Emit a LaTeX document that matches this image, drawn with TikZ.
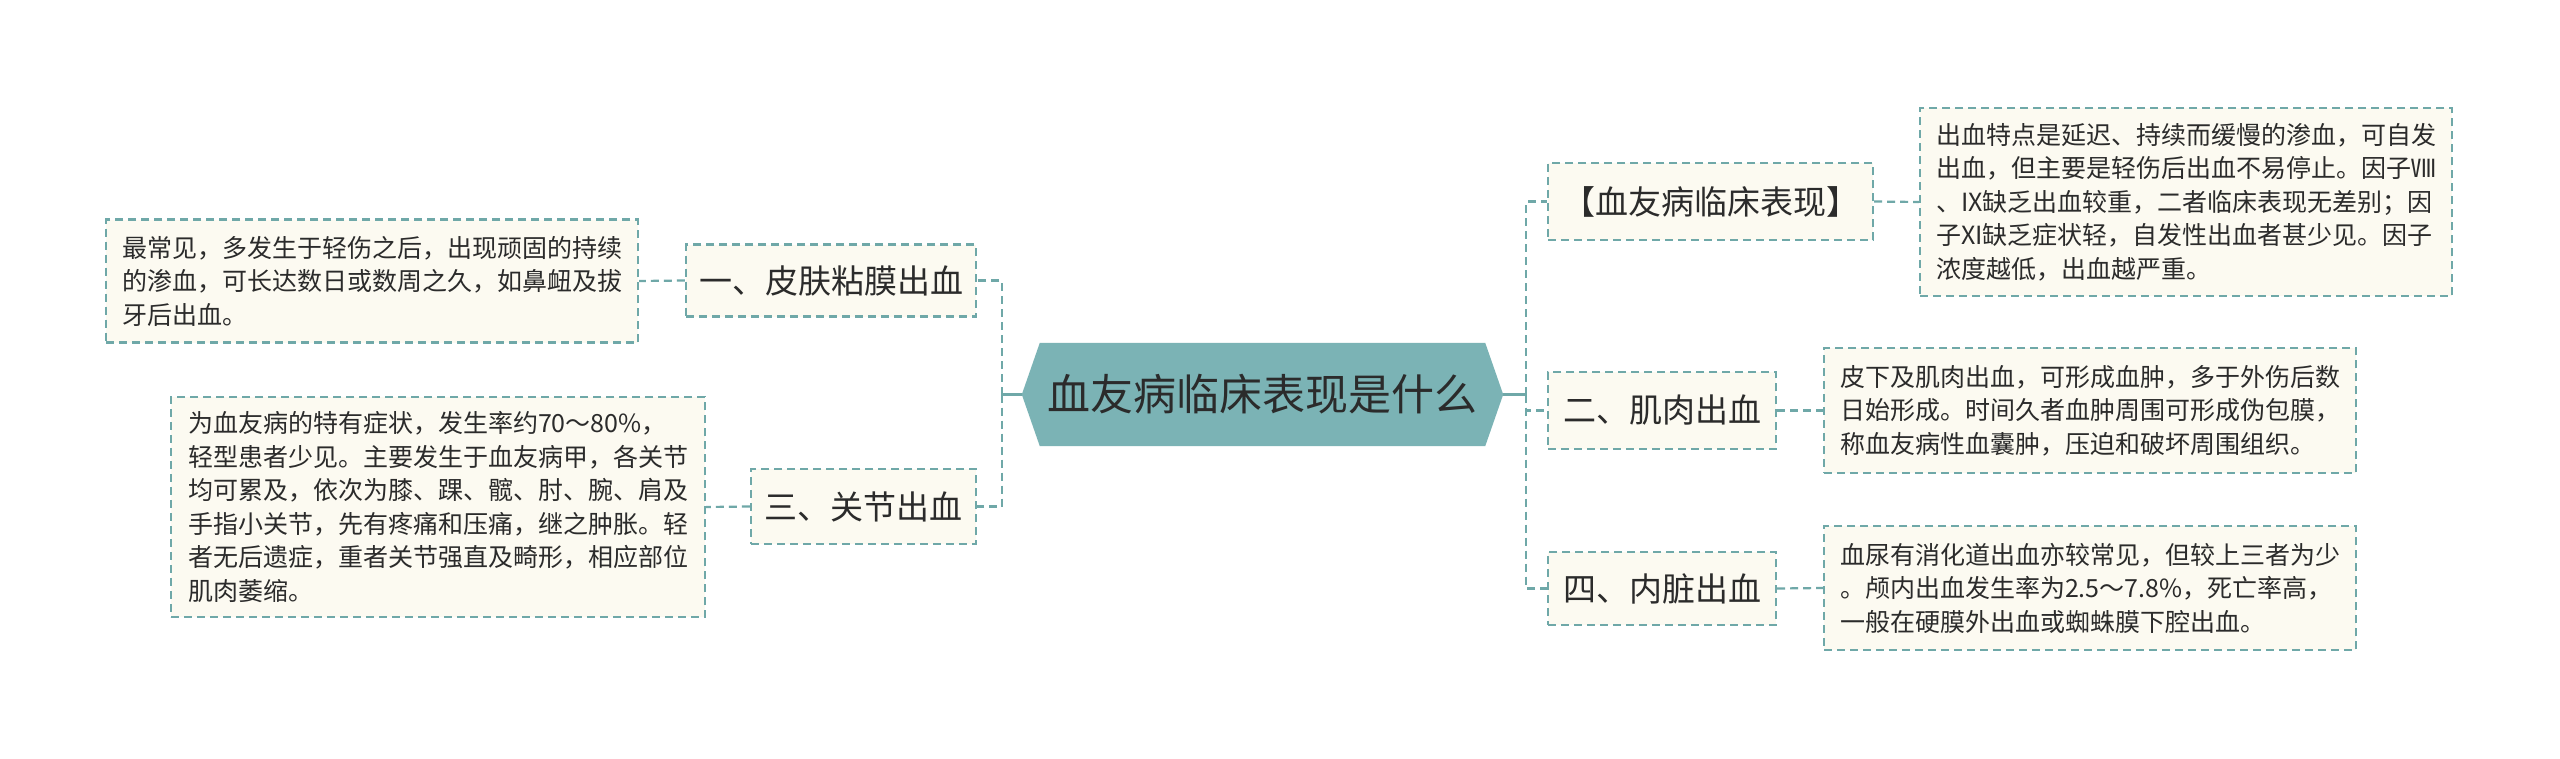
\documentclass[tikz,border=0pt]{standalone}
\usepackage{fontspec}
\setmainfont{Noto Sans CJK SC}
\definecolor{lc}{HTML}{6FA8A8}
\definecolor{cf}{HTML}{7BB3B5}
\definecolor{nf}{HTML}{FCFAF1}
\definecolor{tc}{HTML}{2B2B2B}
\tikzset{
  dsh/.style={draw=lc, line width=2.2pt, dash pattern=on 8pt off 5pt},
  conn/.style={dsh},
  lvl/.style={dsh, fill=nf, text=tc, inner sep=0pt, font=\fontsize{33}{40}\selectfont},
  desc/.style={dsh, fill=nf, text=tc, inner sep=0pt, align=left, font=\fontsize{25}{33.5}\selectfont},
}
\begin{document}
\begin{tikzpicture}[x=1pt,y=-1pt]
\useasboundingbox (0,0) rectangle (2560,758);
\fill[white] (0,0) rectangle (2560,758);
% central
\node[inner sep=0pt, minimum width=481pt, minimum height=103pt, text=tc, font=\fontsize{43}{50}\selectfont] (c) at (1262.5,394.5) {血友病临床表现是什么};
\fill[cf] (c.west) -- ([xshift=18pt]c.north west) -- ([xshift=-18pt]c.north east) -- (c.east) -- ([xshift=-18pt]c.south east) -- ([xshift=18pt]c.south west) -- cycle;
\node[inner sep=0pt, text=tc, font=\fontsize{43}{50}\selectfont] at (c.center) {血友病临床表现是什么};
% left
\node[lvl, minimum width=290pt, minimum height=72pt] (n1) at (831,280.5) {一、皮肤粘膜出血};
\node[lvl, minimum width=225pt, minimum height=75pt] (n3) at (863.5,506.5) {三、关节出血};
\node[desc, minimum width=532pt, minimum height=123pt] (d1) at (372,281) {最常见，多发生于轻伤之后，出现顽固的持续\\的渗血，可长达数日或数周之久，如鼻衄及拔\\牙后出血。};
\node[desc, minimum width=534pt, minimum height=220pt] (d3) at (438,507) {为血友病的特有症状，发生率约70～80\%，\\轻型患者少见。主要发生于血友病甲，各关节\\均可累及，依次为膝、踝、髋、肘、腕、肩及\\手指小关节，先有疼痛和压痛，继之肿胀。轻\\者无后遗症，重者关节强直及畸形，相应部位\\肌肉萎缩。};
% right
\node[lvl, minimum width=325pt, minimum height=77pt] (r1) at (1710.5,201.5) {【血友病临床表现】};
\node[lvl, minimum width=228pt, minimum height=77pt] (r2) at (1662,410.5) {二、肌肉出血};
\node[lvl, minimum width=228pt, minimum height=73pt] (r4) at (1662,588.5) {四、内脏出血};
\node[desc, minimum width=532pt, minimum height=188pt] (e1) at (2186,202) {出血特点是延迟、持续而缓慢的渗血，可自发\\出血，但主要是轻伤后出血不易停止。因子Ⅷ\\、IX缺乏出血较重，二者临床表现无差别；因\\子XI缺乏症状轻，自发性出血者甚少见。因子\\浓度越低，出血越严重。};
\node[desc, minimum width=532pt, minimum height=125pt] (e2) at (2090,410.5) {皮下及肌肉出血，可形成血肿，多于外伤后数\\日始形成。时间久者血肿周围可形成伪包膜，\\称血友病性血囊肿，压迫和破坏周围组织。};
\node[desc, minimum width=532pt, minimum height=124pt] (e4) at (2090,588) {血尿有消化道出血亦较常见，但较上三者为少\\。颅内出血发生率为2.5～7.8\%，死亡率高，\\一般在硬膜外出血或蜘蛛膜下腔出血。};
% connectors
\coordinate (lv) at (1002,394.5);
\coordinate (rv) at (1526,394.5);
\draw[draw=lc, line width=2.2pt] (c.west) -- (lv);
\draw[draw=lc, line width=2.2pt] (c.east) -- (rv);
\draw[conn] (lv) |- (n1.east);
\draw[conn] (lv) |- (n3.east);
\draw[conn] (rv) |- (r1.west);
\draw[conn] (rv) |- (r2.west);
\draw[conn] (rv) |- (r4.west);
\draw[conn] (n1.west) -- (d1.east);
\draw[conn] (n3.west) -- (d3.east);
\draw[conn] (r1.east) -- (e1.west);
\draw[conn] (r2.east) -- (e2.west);
\draw[conn] (r4.east) -- (e4.west);
\end{tikzpicture}
\end{document}
